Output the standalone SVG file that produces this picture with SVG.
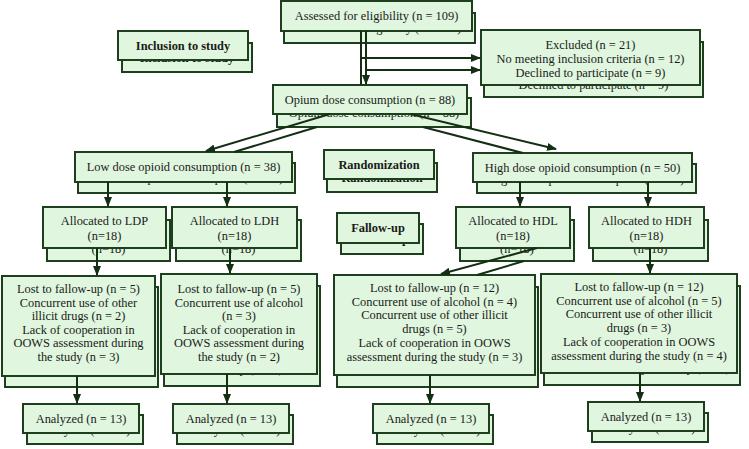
<svg xmlns="http://www.w3.org/2000/svg" xmlns:xlink="http://www.w3.org/1999/xlink" width="749" height="449" viewBox="0 0 749 449">
<style>
.b{fill:#e0f6de;stroke:#1e3f1e;stroke-width:2}
.t{font-family:"Liberation Serif","Times New Roman",serif;font-size:12.4px;fill:#1a1a1a;text-anchor:middle}
.h{font-weight:bold}
.c{stroke:#142e14;stroke-width:2;fill:none}
.a{marker-end:url(#ah)}
</style>
<defs>
<marker id="ah" markerWidth="10" markerHeight="8" refX="9" refY="4" orient="auto" markerUnits="userSpaceOnUse"><path d="M0,0 L10,4 L0,8 Z" fill="#142e14"/></marker>
</defs>
<rect width="749" height="449" fill="#ffffff"/>

<g id="n-assessed"><use href="#f-assessed" x="3" y="12"/><g id="f-assessed"><rect class="b" x="281" y="1" width="191" height="30"/><text class="t" x="376.5" y="20">Assessed for eligibility (n = 109)</text></g></g>
<g id="n-inclusion"><use href="#f-inclusion" x="4" y="12"/><g id="f-inclusion"><rect class="b" x="118" y="31" width="130" height="29"/><text class="t h" x="183" y="49.5">Inclusion to study</text></g></g>
<g id="n-excluded"><use href="#f-excluded" x="3" y="12"/><g id="f-excluded"><rect class="b" x="481" y="30" width="219" height="55"/><text class="t" x="590.5" y="49">Excluded (n = 21)</text><text class="t" x="590.5" y="63">No meeting inclusion criteria (n = 12)</text><text class="t" x="590.5" y="77">Declined to participate (n = 9)</text></g></g>
<g id="n-opium"><use href="#f-opium" x="4" y="13"/><g id="f-opium"><rect class="b" x="273" y="85" width="194" height="29"/><text class="t" x="370" y="104">Opium dose consumption (n = 88)</text></g></g>
<g id="n-low"><use href="#f-low" x="3" y="11"/><g id="f-low"><rect class="b" x="75" y="152" width="217" height="30"/><text class="t" x="183.5" y="171">Low dose opioid consumption (n = 38)</text></g></g>
<g id="n-random"><use href="#f-random" x="3" y="13"/><g id="f-random"><rect class="b" x="324" y="150" width="110" height="29"/><text class="t h" x="379" y="169">Randomization</text></g></g>
<g id="n-high"><use href="#f-high" x="4" y="11"/><g id="f-high"><rect class="b" x="473" y="153" width="219" height="29"/><text class="t" x="582.5" y="172">High dose opioid consumption (n = 50)</text></g></g>
<g id="n-ldp"><use href="#f-ldp" x="4" y="13"/><g id="f-ldp"><rect class="b" x="43" y="207" width="123" height="41"/><text class="t" x="104.5" y="225">Allocated to LDP</text><text class="t" x="104.5" y="240">(n=18)</text></g></g>
<g id="n-ldh"><use href="#f-ldh" x="4" y="13"/><g id="f-ldh"><rect class="b" x="172" y="207" width="125" height="41"/><text class="t" x="234.5" y="225">Allocated to LDH</text><text class="t" x="234.5" y="240">(n=18)</text></g></g>
<g id="n-fallow"><use href="#f-fallow" x="4" y="11"/><g id="f-fallow"><rect class="b" x="337" y="213" width="82" height="30"/><text class="t h" x="378" y="232">Fallow-up</text></g></g>
<g id="n-hdl"><use href="#f-hdl" x="4" y="13"/><g id="f-hdl"><rect class="b" x="456" y="207" width="114" height="41"/><text class="t" x="513" y="225">Allocated to HDL</text><text class="t" x="513" y="240">(n=18)</text></g></g>
<g id="n-hdh"><use href="#f-hdh" x="4" y="13"/><g id="f-hdh"><rect class="b" x="589" y="207" width="115" height="41"/><text class="t" x="646.5" y="225">Allocated to HDH</text><text class="t" x="646.5" y="240">(n=18)</text></g></g>
<g id="n-lost1"><use href="#f-lost1" x="3" y="11"/><g id="f-lost1"><rect class="b" x="2" y="276" width="153" height="100"/><text class="t" x="78.5" y="293">Lost to fallow-up (n = 5)</text><text class="t" x="78.5" y="306.5">Concurrent use of other</text><text class="t" x="78.5" y="320">illicit drugs (n = 2)</text><text class="t" x="78.5" y="333.5">Lack of cooperation in</text><text class="t" x="78.5" y="347">OOWS assessment during</text><text class="t" x="78.5" y="360.5">the study (n = 3)</text></g></g>
<g id="n-lost2"><use href="#f-lost2" x="3" y="12"/><g id="f-lost2"><rect class="b" x="161" y="274" width="156" height="100"/><text class="t" x="239" y="293">Lost to fallow-up (n = 5)</text><text class="t" x="239" y="306.5">Concurrent use of alcohol</text><text class="t" x="239" y="320">(n = 3)</text><text class="t" x="239" y="333.5">Lack of cooperation in</text><text class="t" x="239" y="347">OOWS assessment during</text><text class="t" x="239" y="360.5">the study (n = 2)</text></g></g>
<g id="n-lost3"><use href="#f-lost3" x="3" y="12"/><g id="f-lost3"><rect class="b" x="334" y="275" width="201" height="100"/><text class="t" x="434.5" y="292">Lost to fallow-up (n = 12)</text><text class="t" x="434.5" y="305.5">Concurrent use of alcohol (n = 4)</text><text class="t" x="434.5" y="319">Concurrent use of other illicit</text><text class="t" x="434.5" y="333">drugs (n = 5)</text><text class="t" x="434.5" y="347">Lack of cooperation in OOWS</text><text class="t" x="434.5" y="361">assessment during the study (n = 3)</text></g></g>
<g id="n-lost4"><use href="#f-lost4" x="3" y="12"/><g id="f-lost4"><rect class="b" x="541" y="274" width="196" height="99"/><text class="t" x="639" y="291">Lost to fallow-up (n = 12)</text><text class="t" x="639" y="304.5">Concurrent use of alcohol (n = 5)</text><text class="t" x="639" y="318">Concurrent use of other illicit</text><text class="t" x="639" y="332">drugs (n = 3)</text><text class="t" x="639" y="346">Lack of cooperation in OOWS</text><text class="t" x="639" y="360">assessment during the study (n = 4)</text></g></g>
<g id="n-an1"><use href="#f-an1" x="4" y="11"/><g id="f-an1"><rect class="b" x="23" y="404" width="116" height="29"/><text class="t" x="81" y="423">Analyzed (n = 13)</text></g></g>
<g id="n-an2"><use href="#f-an2" x="4" y="11"/><g id="f-an2"><rect class="b" x="173" y="404" width="116" height="29"/><text class="t" x="231" y="423">Analyzed (n = 13)</text></g></g>
<g id="n-an3"><use href="#f-an3" x="4" y="11"/><g id="f-an3"><rect class="b" x="373" y="404" width="116" height="29"/><text class="t" x="431" y="423">Analyzed (n = 13)</text></g></g>
<g id="n-an4"><use href="#f-an4" x="4" y="11"/><g id="f-an4"><rect class="b" x="588" y="402" width="116" height="29"/><text class="t" x="646" y="421">Analyzed (n = 13)</text></g></g>

<g id="connectors">
<path class="c" d="M361,31 V85"/>
<path class="c a" d="M366,31 V84"/>
<path class="c a" d="M361,58 H480"/>
<path class="c a" d="M366,70 H480"/>
<path class="c a" d="M330,114 L206,151"/>
<path class="c" d="M317,127 L234,152"/>
<path class="c a" d="M410,114 L556,149"/>
<path class="c" d="M423,127 L523,153"/>
<path class="c a" d="M108,182 V206"/>
<path class="c a" d="M227,182 V206"/>
<path class="c a" d="M520,182 V206"/>
<path class="c a" d="M648,182 V206"/>
<path class="c a" d="M97,248 V275"/>
<path class="c a" d="M230,248 V273"/>
<path class="c a" d="M537,248 L441,274"/>
<path class="c" d="M524,261 L477,275"/>
<path class="c a" d="M650,248 V273"/>
<path class="c a" d="M77,376 V403"/>
<path class="c a" d="M227,374 V403"/>
<path class="c a" d="M430,375 V403"/>
<path class="c a" d="M640,373 V401"/>
</g>
</svg>
